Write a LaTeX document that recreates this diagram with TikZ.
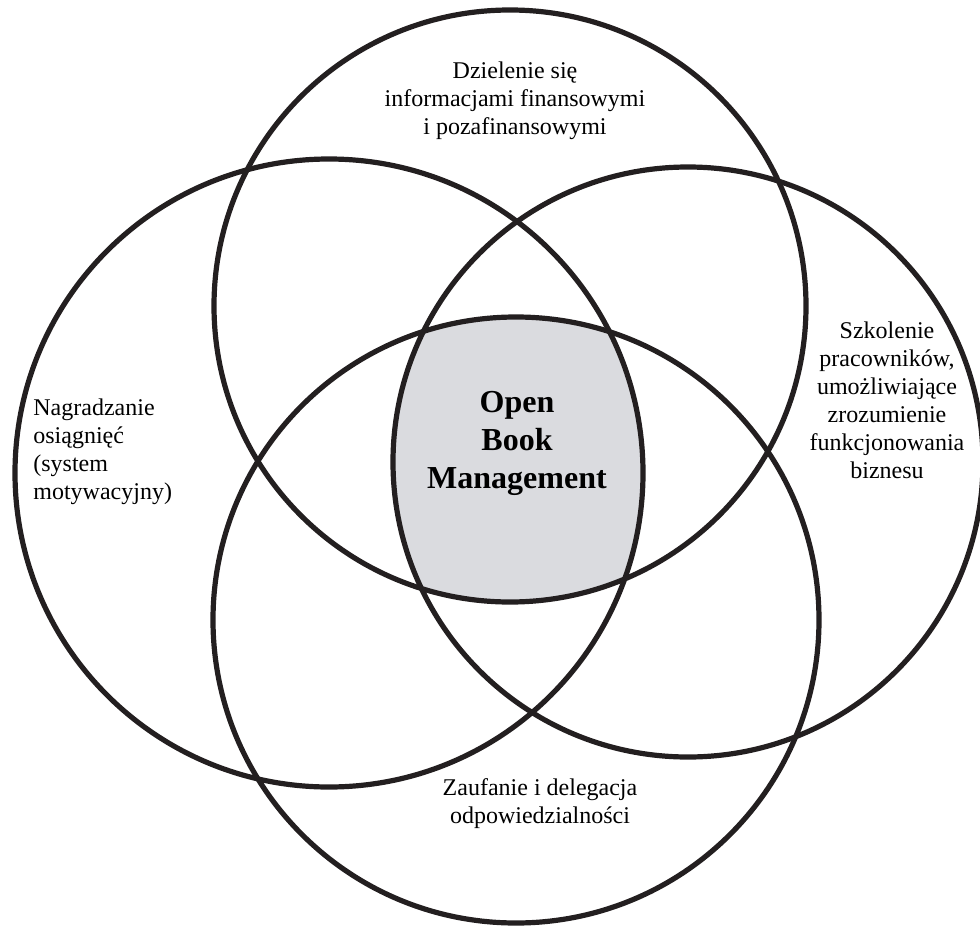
\documentclass[tikz,border=0pt]{standalone}
\usepackage{fontspec}
\setmainfont{Liberation Serif}
\usepackage{tikz}

\definecolor{ringline}{RGB}{35,31,32}
\definecolor{corefill}{RGB}{218,219,223}

\tikzset{
  ring/.style={draw=ringline, line width=2.6pt},
  label/.style={inner sep=0pt, font=\fontsize{12}{14}\selectfont},
  core/.style={inner sep=0pt, align=center, font=\fontsize{16}{19}\selectfont\bfseries}
}

\begin{document}
\begin{tikzpicture}[x=0.5pt, y=-0.5pt]
\useasboundingbox (0,0) rectangle (980,926);

% Circle centres
\coordinate (top) at (510,306);
\coordinate (left) at (329,473);
\coordinate (right) at (688,462);
\coordinate (bottom) at (516,620);

% Common part
\begin{scope}
\clip (top) circle [radius=148pt];
\clip (left) circle [radius=157pt];
\clip (right) circle [radius=147.5pt];
\fill[corefill] (bottom) circle [radius=151.5pt];
\end{scope}

% Circles
\draw[ring] (top) circle [radius=148pt];
\draw[ring] (left) circle [radius=157pt];
\draw[ring] (right) circle [radius=147.5pt];
\draw[ring] (bottom) circle [radius=151.5pt];

% Labels
\node[label, align=center] (info) at (515,101) {Dzielenie się\\informacjami finansowymi\\i pozafinansowymi};
\node[label, align=left, anchor=west] (reward) at (33,452) {Nagradzanie\\osiągnięć\\(system\\motywacyjny)};
\node[label, align=center] (train) at (887,400) {Szkolenie\\pracowników,\\umożliwiające\\zrozumienie\\funkcjonowania\\biznesu};
\node[label, align=center] (trust) at (540,804) {Zaufanie i delegacja\\odpowiedzialności};
\node[core] (obm) at (517,443) {Open\\Book\\Management};

\end{tikzpicture}
\end{document}
